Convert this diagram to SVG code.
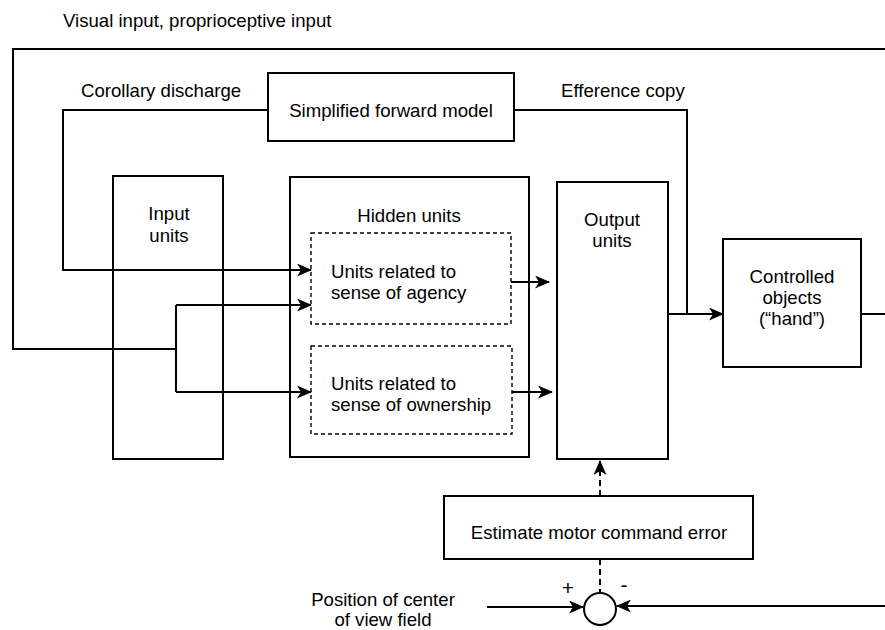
<svg xmlns="http://www.w3.org/2000/svg" width="885" height="630" viewBox="0 0 885 630">
<defs>
<marker id="arr" viewBox="0 0 15 13" refX="14" refY="6.5" markerWidth="15" markerHeight="13" markerUnits="userSpaceOnUse" orient="auto">
<path d="M0,0 L15,6.5 L0,13 L4,6.5 Z" fill="#000"/>
</marker>
</defs>
<style>
text{font-family:"Liberation Sans",Arial,sans-serif;font-size:18.6px;fill:#000}
.box{fill:none;stroke:#000;stroke-width:2}
.dbox{fill:none;stroke:#000;stroke-width:1.4;stroke-dasharray:4 3}
.ln{fill:none;stroke:#000;stroke-width:2}
.dl{fill:none;stroke:#000;stroke-width:2;stroke-dasharray:6 4}
</style>
<rect width="885" height="630" fill="#fff"/>
<g id="connectors">
<path class="ln" d="M885,49 H13 V349 H176"/>
<path class="ln" d="M176,305 V392"/>
<path class="ln" d="M176,305 H311" marker-end="url(#arr)"/>
<path class="ln" d="M176,392 H311" marker-end="url(#arr)"/>
<path class="ln" d="M268,110 H63 V270 H311" marker-end="url(#arr)"/>
<path class="ln" d="M514,110 H687 V314"/>
<path class="ln" d="M668,314 H723" marker-end="url(#arr)"/>
<path class="ln" d="M861,314 H885"/>
<path class="ln" d="M511,282 H549" marker-end="url(#arr)"/>
<path class="ln" d="M512,392 H552" marker-end="url(#arr)"/>
<path class="dl" d="M600,496 V461" marker-end="url(#arr)"/>
<path class="dl" d="M600,559 V593"/>
<path class="ln" d="M487,607 H583" marker-end="url(#arr)"/>
<path class="ln" d="M885,606 H617" marker-end="url(#arr)"/>
</g>
<g id="input-units"><rect class="box" x="113" y="176" width="110" height="283"/>
<text x="169" y="220" text-anchor="middle">Input</text><text x="169" y="242" text-anchor="middle">units</text></g>
<g id="hidden-units"><rect class="box" x="290" y="177" width="239" height="280"/>
<text x="409" y="222" text-anchor="middle">Hidden units</text></g>
<g id="agency"><rect class="dbox" x="311" y="233" width="200" height="91"/>
<text x="331" y="278">Units related to</text><text x="331" y="299">sense of agency</text></g>
<g id="ownership"><rect class="dbox" x="311" y="346" width="201" height="88"/>
<text x="331" y="390">Units related to</text><text x="331" y="411">sense of ownership</text></g>
<g id="output-units"><rect class="box" x="557" y="182" width="111" height="277"/>
<text x="612" y="226" text-anchor="middle">Output</text><text x="612" y="247" text-anchor="middle">units</text></g>
<g id="forward-model"><rect class="box" x="268" y="73" width="246" height="68"/>
<text x="391" y="117" text-anchor="middle">Simplified forward model</text></g>
<g id="controlled"><rect class="box" x="723" y="239" width="138" height="128"/>
<text x="792" y="283" text-anchor="middle">Controlled</text><text x="792" y="304" text-anchor="middle">objects</text><text x="792" y="325" text-anchor="middle">(“hand”)</text></g>
<g id="estimate"><rect class="box" x="444" y="496" width="309" height="63"/>
<text x="599" y="539" text-anchor="middle">Estimate motor command error</text></g>
<g id="comparator"><circle cx="600" cy="609" r="16" fill="#fff" stroke="#000" stroke-width="2"/>
<text x="568" y="595" text-anchor="middle" style="font-size:21px">+</text><text x="624" y="592" text-anchor="middle" style="font-size:21px">-</text></g>
<g id="labels">
<text x="63" y="27">Visual input, proprioceptive input</text>
<text x="81" y="97">Corollary discharge</text>
<text x="561" y="97">Efference copy</text>
<text x="383" y="606" text-anchor="middle">Position of center</text>
<text x="383" y="626" text-anchor="middle">of view field</text>
</g>
</svg>
